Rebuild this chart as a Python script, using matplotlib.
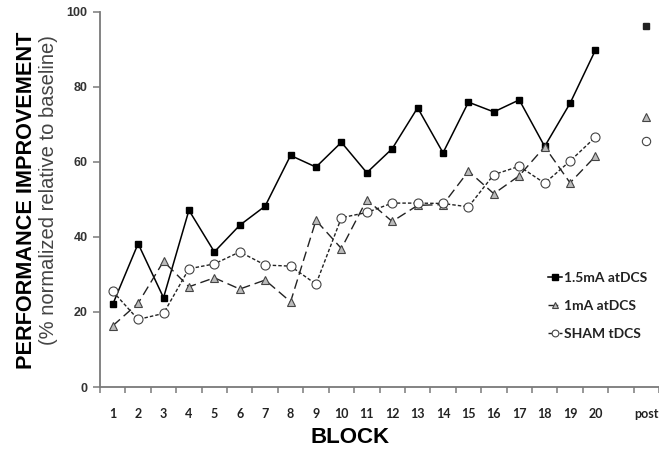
import numpy as np
import matplotlib.pyplot as plt

# block numbers, "post" sits two slots after block 20
blocks = np.arange(1, 21)
post_pos = 22
xtick_pos = list(blocks) + [post_pos]
xtick_labels = [str(b) for b in blocks] + ['post']

# % improvement
high = [22.0, 38.2, 23.8, 47.1, 36.0, 43.1, 48.2, 61.7, 58.6, 65.2,
        57.1, 63.5, 74.4, 62.4, 75.9, 73.3, 76.5, 64.1, 75.6, 89.8]
low = [16.3, 22.3, 33.5, 26.7, 29.1, 26.1, 28.5, 22.7, 44.4, 36.9,
       49.9, 44.1, 48.4, 48.6, 57.5, 51.5, 56.3, 64.0, 54.4, 61.5]
sham = [25.5, 18.0, 19.6, 31.5, 32.8, 36.0, 32.5, 32.2, 27.4, 45.1,
        46.5, 49.0, 49.0, 48.9, 48.0, 56.6, 58.8, 54.3, 60.2, 66.6]
high_post = 96.3
low_post = 72.0
sham_post = 65.6

fig = plt.figure(figsize=(6.59, 4.51), dpi=100)
ax = fig.add_axes([100/659, 64/451, 559/659, 375.3/451])

ax.plot(blocks, high, '-', color='black', lw=1.1, marker='s', ms=5,
        mfc='black', mec='black', label='1.5mA atDCS')
ax.plot(blocks, low, color='#222222', lw=1.0, dashes=(7, 3.5), marker='^', ms=6,
        mfc='#bbbbbb', mec='#444444', mew=0.8, label='1mA atDCS')
ax.plot(blocks, sham, color='#222222', lw=1.0, dashes=(2.5, 1.5), marker='o', ms=6.5,
        mfc='white', mec='#444444', mew=0.8, label='SHAM tDCS')

ax.plot([post_pos], [high_post], 's', ms=5, color='#222222')
ax.plot([post_pos], [low_post], '^', ms=5.5, mfc='#bbbbbb', mec='#444444', mew=0.8)
ax.plot([post_pos], [sham_post], 'o', ms=6, mfc='white', mec='#444444', mew=0.8)

ax.set_xlim(0.5, 0.5 + 559/25.5)
ax.set_ylim(0, 100)

for s in ['top', 'right']:
    ax.spines[s].set_visible(False)
for s in ['left', 'bottom']:
    ax.spines[s].set_color('#7a7a7a')
    ax.spines[s].set_linewidth(1.3)

ax.set_yticks([0, 20, 40, 60, 80, 100])
ax.tick_params(axis='y', direction='out', length=5, width=1.1, color='#7a7a7a',
               pad=4, labelsize=9, labelcolor='#333333')
for t in ax.get_yticklabels():
    t.set_fontweight('bold')
    t.set_family('Liberation Sans')

ax.set_xticks(xtick_pos)
ax.set_xticklabels(xtick_labels, fontweight='bold', family='Lato')
ax.set_xticks(np.arange(0.5, 23, 1), minor=True)
ax.tick_params(axis='x', which='major', length=0, pad=15, labelsize=9,
               labelcolor='#222222')
ax.tick_params(axis='x', which='minor', direction='out', length=4, width=1.1,
               color='#7a7a7a')

fig.text(0.040, 0.556, 'PERFORMANCE IMPROVEMENT', rotation=90, ha='center', va='center',
         fontsize=15.6, fontweight='bold', family='Liberation Sans')
fig.text(0.074, 0.579, '(% normalized relative to baseline)', rotation=90,
         ha='center', va='center', fontsize=14.5, color='#444444', family='Liberation Sans')
fig.text(0.531, 0.030, 'BLOCK', ha='center', va='center', fontsize=16,
         fontweight='bold', family='Liberation Sans')

leg = ax.legend(loc='upper left', bbox_to_anchor=((548 - 100)/559, 1 - (272 - 11.7)/375.3),
                frameon=False, handlelength=1.0, handletextpad=0.15, labelspacing=1.15,
                numpoints=1, markerscale=0.75,
                prop={'family': 'Lato', 'weight': 'bold', 'size': 10},
                borderaxespad=0, borderpad=0)
for t in leg.get_texts():
    t.set_color('#222222')

fig.savefig('out.png', dpi=100)
